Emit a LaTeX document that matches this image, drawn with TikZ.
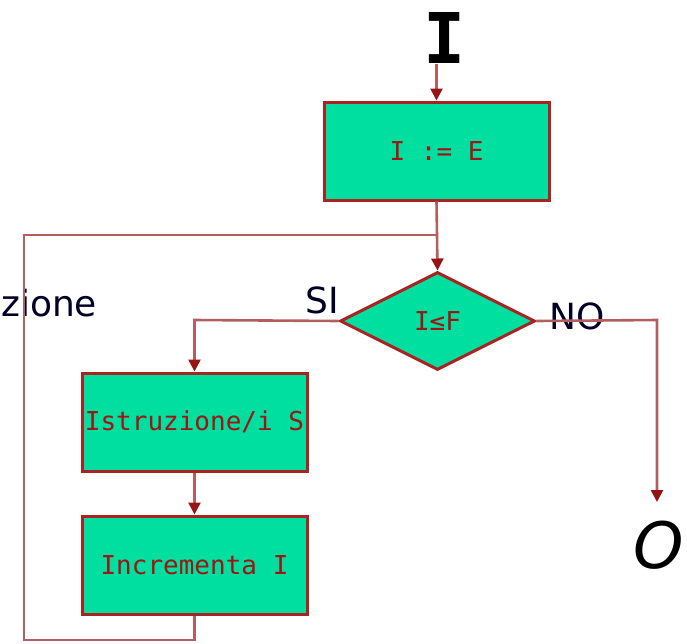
\documentclass[tikz,border=0pt]{standalone}
\usepackage{fontspec}
\setmainfont{DejaVu Sans}
\newfontfamily\boxfont{DejaVu Sans Mono}
\usetikzlibrary{shapes.geometric,arrows.meta}
\definecolor{boxfill}{RGB}{0,222,160}
\definecolor{boxline}{RGB}{170,35,35}
\definecolor{boxtext}{RGB}{160,20,20}
\definecolor{conncol}{RGB}{180,95,95}
\definecolor{tipcol}{RGB}{150,20,20}
\tikzset{
  procbox/.style={draw=boxline, line width=3pt, fill=boxfill, minimum width=225pt, minimum height=98pt, inner sep=0pt, text=boxtext, font=\boxfont\fontsize{26}{30}\selectfont},
  decbox/.style={diamond, draw=boxline, line width=3pt, fill=boxfill, minimum width=195pt, minimum height=98pt, inner sep=0pt, text=boxtext, font=\boxfont\fontsize{26}{30}\selectfont},
  lbl/.style={inner sep=0pt, text=black!85!blue, font=\fontsize{36}{40}\selectfont},
  conn/.style={draw=conncol, line width=2.6pt},
  arr/.style={conn, -{Triangle[length=12pt,width=12pt,color=tipcol]}},
}
\begin{document}
\begin{tikzpicture}[x=1pt,y=-1pt]
\useasboundingbox (0,0) rectangle (687,643);
\node[inner sep=0pt, font=\boxfont\bfseries\fontsize{70}{72}\selectfont] (in) at (445,38) {I};
\node[procbox] (ie) at (436.5,151) {I := E};
\node[decbox] (d) at (437.5,321) {I≤F};
\node[procbox] (s) at (194.5,422) {Istruzione/i S};
\node[procbox] (inc) at (194.5,565) {Incrementa I};
\node[lbl] (si) at (322,300) {SI};
\node[lbl] (no) at (577,316) {NO};
\node[lbl, anchor=west] (zi) at (1,303) {zione};
\node[inner sep=0pt, font=\itshape\fontsize{64}{70}\selectfont] (out) at (659,545) {O};
\coordinate (lb) at (24,640);
\coordinate (lt) at (24,235);
\coordinate (j) at (436.5,235);
\coordinate (nr) at (657,320);
\coordinate (ne) at (657,502);
\coordinate (sl) at (194.5,320);
\draw[arr] (436.5,64) -- (ie.north);
\draw[arr] (ie.south) -- (d.north);
\draw[conn] (inc.south) |- (lb) -- (lt) -- (j);
\draw[arr] (d.west) -- (sl) -- (s.north);
\draw[arr] (s.south) -- (inc.north);
\draw[arr] (d.east) -- (nr) -- (ne);
\end{tikzpicture}
\end{document}
